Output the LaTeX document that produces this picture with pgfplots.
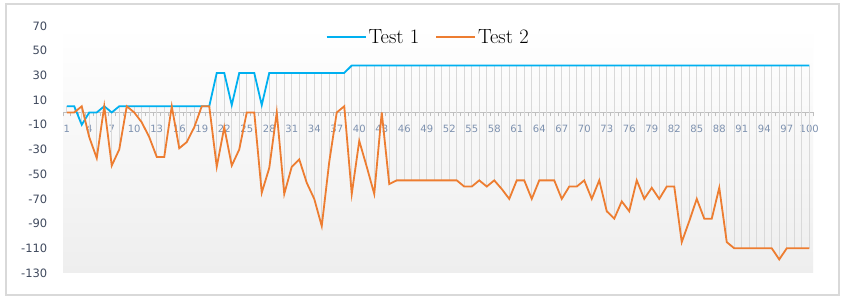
\documentclass[border=0pt]{standalone}
\usepackage{fontspec}
\usepackage{pgfplots}
\pgfplotsset{compat=1.18}
\usepackage{pgfplotstable}
\newfontfamily\tickfont{DejaVu Sans}
\definecolor{tblue}{RGB}{0,176,240}
\definecolor{torange}{RGB}{237,125,49}
\definecolor{hlc}{RGB}{217,217,217}
\definecolor{axc}{RGB}{191,191,191}
\definecolor{ytc}{RGB}{64,74,94}
\definecolor{xtc}{RGB}{125,145,175}
\definecolor{bgb}{RGB}{238,238,238}
\definecolor{frame}{RGB}{217,217,217}

\pgfplotstableread{
x a b
1 5 0
2 5 0
3 -10 5
4 0 -20
5 0 -37
6 5 5
7 0 -43
8 5 -30
9 5 5
10 5 0
11 5 -8
12 5 -20
13 5 -36
14 5 -36
15 5 5
16 5 -29
17 5 -24
18 5 -12
19 5 5
20 5 5
21 32 -44
22 32 -12
23 6 -43
24 32 -30
25 32 0
26 32 0
27 6 -65
28 32 -45
29 32 0
30 32 -66
31 32 -44
32 32 -38
33 32 -57
34 32 -70
35 32 -92
36 32 -40
37 32 0
38 32 5
39 38 -66
40 38 -23
41 38 -44
42 38 -66
43 38 0
44 38 -58
45 38 -55
46 38 -55
47 38 -55
48 38 -55
49 38 -55
50 38 -55
51 38 -55
52 38 -55
53 38 -55
54 38 -60
55 38 -60
56 38 -55
57 38 -60
58 38 -55
59 38 -62
60 38 -70
61 38 -55
62 38 -55
63 38 -70
64 38 -55
65 38 -55
66 38 -55
67 38 -70
68 38 -60
69 38 -60
70 38 -55
71 38 -70
72 38 -55
73 38 -80
74 38 -86
75 38 -72
76 38 -80
77 38 -55
78 38 -70
79 38 -61
80 38 -70
81 38 -60
82 38 -60
83 38 -105
84 38 -88
85 38 -70
86 38 -86
87 38 -86
88 38 -61
89 38 -105
90 38 -110
91 38 -110
92 38 -110
93 38 -110
94 38 -110
95 38 -110
96 38 -119
97 38 -110
98 38 -110
99 38 -110
100 38 -110
}\data

\begin{document}
\begin{tikzpicture}
\path[use as bounding box, fill=white] (0pt,0pt) rectangle (848pt,305pt);
\draw[frame, line width=1.5pt] (6pt,10pt) rectangle (839pt,301pt);
\begin{axis}[
  at={(63pt,32pt)}, anchor=south west,
  scale only axis, width=750pt, height=247pt,
  xmin=0.5, xmax=100.5, ymin=-130, ymax=70,
  axis x line*=middle, axis y line*=left,
  y axis line style={draw=none},
  x axis line style={draw=axc, line width=1.2pt},
  axis background/.style={shade, top color=white, bottom color=bgb},
  xtick={1,4,...,100},
  minor xtick={0.5,1.5,...,100.5},
  ytick={-130,-110,...,70},
  every major x tick/.append style={draw=none},
  every major y tick/.append style={draw=none},
  every minor x tick/.append style={draw=axc, line width=1pt},
  minor tick length=4pt,
  tick align=outside,
  /pgf/number format/assume math mode=true,
  xticklabel style={font=\tickfont\fontsize{10}{12}\selectfont, text=xtc, yshift=-5pt},
  yticklabel style={font=\tickfont\fontsize{11.5}{13}\selectfont, text=ytc, xshift=-8pt},
  legend style={at={(0.487,0.955)}, anchor=center, draw=none, fill=none,
    font=\fontsize{20.5}{22}\selectfont, legend columns=2,
    /tikz/every even column/.append style={column sep=14pt}},
  legend image code/.code={\draw[#1] (0pt,0pt) -- (39pt,0pt);},
  clip=false,
]
\addplot[forget plot, draw=none, mark=none,
  error bars/.cd, y dir=plus, y explicit,
  error bar style={draw=hlc, line width=1.4pt}, error mark=none]
  table[x=x, y=b, y error expr=\thisrow{a}-\thisrow{b}] {\data};
\addplot[tblue, line width=1.8pt, mark=none] table[x=x, y=a] {\data};
\addlegendentry{Test 1}
\addplot[torange, line width=1.8pt, mark=none] table[x=x, y=b] {\data};
\addlegendentry{Test 2}
\end{axis}
\end{tikzpicture}
\end{document}
